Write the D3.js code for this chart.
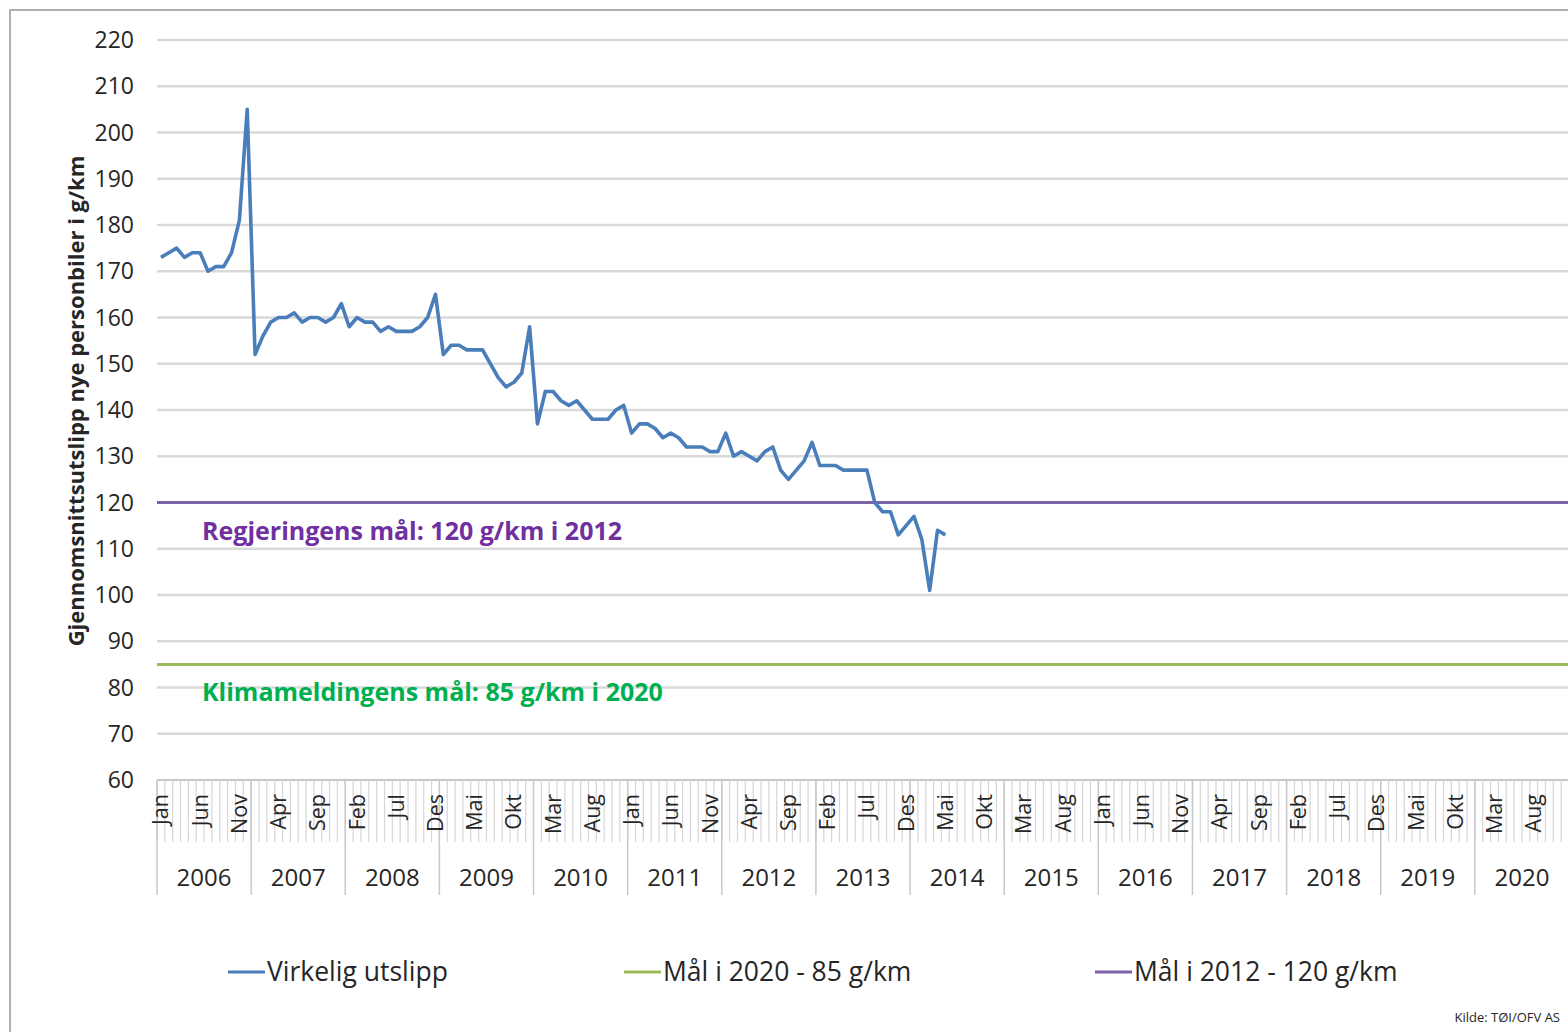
<!DOCTYPE html>
<meta charset="utf-8">
<style>
body { margin: 0; background: #fff; }
svg { display: block; font-family: "Open Sans", sans-serif; }
.grid line { stroke: #d9d9d9; stroke-width: 2.5; }
.ylab text { fill: #262626; font-size: 23px; }
.mlab { fill: #262626; font-size: 21.5px; }
.ylbl { fill: #262626; font-size: 24px; }
.leg text { fill: #262626; font-size: 26.5px; }
</style>
<body>
<script src="https://cdn.jsdelivr.net/npm/d3@7"></script>
<script>

// chart values
var years = [2006, 2007, 2008, 2009, 2010, 2011, 2012, 2013, 2014, 2015, 2016, 2017, 2018, 2019, 2020];
var monthNames = ["Jan", "Feb", "Mar", "Apr", "Mai", "Jun", "Jul", "Aug", "Sep", "Okt", "Nov", "Des"];

// average emission of new cars, g/km, monthly from Jan 2006
var emissions = [
  173, 174, 175, 173, 174, 174, 170, 171, 171, 174, 181, 205,
  152, 156, 159, 160, 160, 161, 159, 160, 160, 159, 160, 163,
  158, 160, 159, 159, 157, 158, 157, 157, 157, 158, 160, 165,
  152, 154, 154, 153, 153, 153, 150, 147, 145, 146, 148, 158,
  137, 144, 144, 142, 141, 142, 140, 138, 138, 138, 140, 141,
  135, 137, 137, 136, 134, 135, 134, 132, 132, 132, 131, 131,
  135, 130, 131, 130, 129, 131, 132, 127, 125, 127, 129, 133,
  128, 128, 128, 127, 127, 127, 127, 120, 118, 118, 113, 115,
  117, 112, 101, 114, 113
];

var target2020 = 85;
var target2012 = 120;
var yTicks = [60, 70, 80, 90, 100, 110, 120, 130, 140, 150, 160, 170, 180, 190, 200, 210, 220];

var seriesNames = ["Virkelig utslipp", "Mål i 2020 - 85 g/km", "Mål i 2012 - 120 g/km"];
var colours = ["#4a7ebb", "#9bbb59", "#7d62a8"];

var width = 1568, height = 1032;
var plotLeft = 157, plotRight = 1569, plotTop = 40, plotBottom = 780;

// one category per month
var monthKeys = [];
years.forEach(function(y) {
  monthNames.forEach(function(m, j) { monthKeys.push(y + "-" + j); });
});

var x = d3.scaleBand().domain(monthKeys).range([plotLeft, plotRight]);
var xYear = d3.scaleBand().domain(years).range([plotLeft, plotRight]);
var y = d3.scaleLinear().domain([60, 220]).range([plotBottom, plotTop]);

var svg = d3.select("body").append("svg")
    .attr("width", width)
    .attr("height", height);

// outer frame
svg.append("path")
    .attr("d", "M10," + height + "V10H" + width)
    .attr("fill", "none")
    .attr("stroke", "#b0b0b0")
    .attr("stroke-width", 2);

// horizontal gridlines
svg.append("g").attr("class", "grid")
  .selectAll("line")
  .data(yTicks.slice(1))
  .enter().append("line")
    .attr("x1", plotLeft).attr("x2", plotRight)
    .attr("y1", function(d) { return y(d); })
    .attr("y2", function(d) { return y(d); });

// y axis labels
svg.append("g").attr("class", "ylab")
  .selectAll("text")
  .data(yTicks)
  .enter().append("text")
    .attr("x", 134)
    .attr("y", function(d) { return y(d); })
    .attr("dy", "0.35em")
    .attr("text-anchor", "end")
    .text(function(d) { return d; });

svg.append("text")
    .attr("transform", "translate(76," + 401 + ") rotate(-90)")
    .attr("text-anchor", "middle")
    .attr("dy", "0.35em")
    .style("font-size", "22px")
    .style("font-weight", "bold")
    .style("fill", "#262626")
    .text("Gjennomsnittsutslipp nye personbiler i g/km");

// category axis: month ticks, month labels and year groups
var xg = svg.append("g");
xg.append("line")
    .attr("x1", plotLeft).attr("x2", plotRight)
    .attr("y1", plotBottom).attr("y2", plotBottom)
    .attr("stroke", "#c8c8c8").attr("stroke-width", 2);

xg.selectAll(".mtick")
  .data(monthKeys)
  .enter().append("line")
    .attr("x1", function(d) { return x(d); })
    .attr("x2", function(d) { return x(d); })
    .attr("y1", plotBottom)
    .attr("y2", 842)
    .attr("stroke", "#d6d6d6")
    .attr("stroke-width", 1.2);

xg.selectAll(".ytick")
  .data(years.concat([null]))
  .enter().append("line")
    .attr("x1", function(d) { return d === null ? plotRight : xYear(d); })
    .attr("x2", function(d) { return d === null ? plotRight : xYear(d); })
    .attr("y1", plotBottom)
    .attr("y2", 895)
    .attr("stroke", "#c8c8c8")
    .attr("stroke-width", 1.5);

xg.selectAll(".mlab")
  .data(monthKeys.filter(function(d, i) { return i % 5 === 0; }))
  .enter().append("text")
    .attr("class", "mlab")
    .attr("transform", function(d) {
      return "translate(" + (x(d) + x.bandwidth() / 2) + ",794) rotate(-90)";
    })
    .attr("dy", "0.35em")
    .attr("text-anchor", "end")
    .text(function(d) { return monthNames[+d.split("-")[1]]; });

xg.selectAll(".ylbl")
  .data(years)
  .enter().append("text")
    .attr("class", "ylbl")
    .attr("x", function(d) { return xYear(d) + xYear.bandwidth() / 2; })
    .attr("y", 878)
    .attr("dy", "0.35em")
    .attr("text-anchor", "middle")
    .text(function(d) { return d; });

// target lines
svg.append("line")
    .attr("x1", plotLeft).attr("x2", plotRight)
    .attr("y1", y(target2020)).attr("y2", y(target2020))
    .attr("stroke", colours[1]).attr("stroke-width", 3);

svg.append("line")
    .attr("x1", plotLeft).attr("x2", plotRight)
    .attr("y1", y(target2012)).attr("y2", y(target2012))
    .attr("stroke", colours[2]).attr("stroke-width", 3);

// actual emissions
var line = d3.line()
    .x(function(d, i) { return x(monthKeys[i]) + x.bandwidth() / 2; })
    .y(function(d) { return y(d); });

svg.append("path")
    .datum(emissions)
    .attr("d", line)
    .attr("fill", "none")
    .attr("stroke", colours[0])
    .attr("stroke-width", 3.6)
    .attr("stroke-linejoin", "round");

// annotations
svg.append("text")
    .attr("x", 202)
    .attr("y", y(target2012) + 29)
    .attr("dy", "0.35em")
    .style("font-size", "25px")
    .style("font-weight", "bold")
    .style("fill", "#7030a0")
    .text("Regjeringens mål: 120 g/km i 2012");

svg.append("text")
    .attr("x", 202)
    .attr("y", y(target2020) + 28)
    .attr("dy", "0.35em")
    .style("font-size", "25px")
    .style("font-weight", "bold")
    .style("fill", "#00b050")
    .text("Klimameldingens mål: 85 g/km i 2020");

// legend
var legendX = [228, 624, 1095];
var leg = svg.selectAll(".leg")
  .data(seriesNames)
  .enter().append("g")
    .attr("class", "leg")
    .attr("transform", function(d, i) { return "translate(" + legendX[i] + ",972)"; });

leg.append("line")
    .attr("x1", 0).attr("x2", 37)
    .attr("stroke", function(d, i) { return colours[i]; })
    .attr("stroke-width", 3);

leg.append("text")
    .attr("x", 39)
    .attr("dy", "0.35em")
    .text(function(d) { return d; });

svg.append("text")
    .attr("x", 1560)
    .attr("y", 1017)
    .attr("dy", "0.35em")
    .attr("text-anchor", "end")
    .style("font-size", "13px")
    .style("fill", "#262626")
    .text("Kilde: TØI/OFV AS");

</script>
</body>
